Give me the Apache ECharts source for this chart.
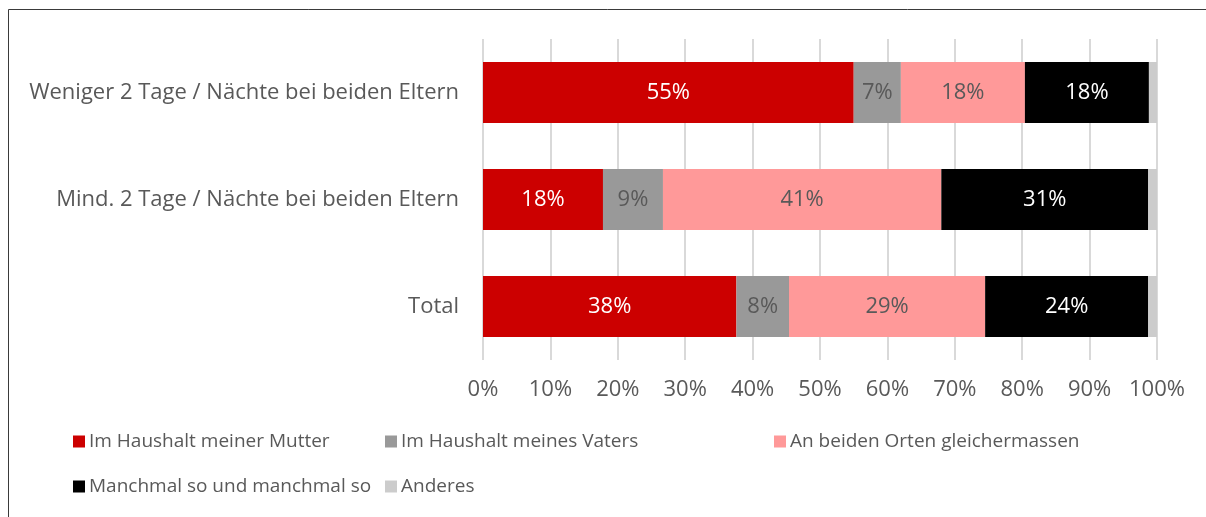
<!DOCTYPE html>
<html>
<head>
<meta charset="utf-8">
<script src="https://cdn.jsdelivr.net/npm/echarts@6/dist/echarts.min.js"></script>
<style>
html,body{margin:0;padding:0;background:#fff;}
#chart{width:1206px;height:517px;}
</style>
</head>
<body>
<div id="chart"></div>
<script>
var categories = ['Weniger 2 Tage / Nächte bei beiden Eltern', 'Mind. 2 Tage / Nächte bei beiden Eltern', 'Total'];
var seriesNames = ['Im Haushalt meiner Mutter', 'Im Haushalt meines Vaters', 'An beiden Orten gleichermassen', 'Manchmal so und manchmal so', 'Anderes'];
var mutter = [55.0, 17.8, 37.6];
var vater = [7.0, 8.9, 7.8];
var beide = [18.4, 41.3, 29.1];
var manchmal = [18.4, 30.7, 24.2];
var anderes = [1.2, 1.3, 1.3];
var xTicks = [0, 10, 20, 30, 40, 50, 60, 70, 80, 90, 100];

var FONT = '"Open Sans", "Noto Sans", sans-serif';
var TXT = '#595959';
var colors = ['#CC0000', '#999999', '#FF9999', '#000000', '#CCCCCC'];
var labelColors = ['#FFFFFF', TXT, TXT, '#FFFFFF', null];
var values = [mutter, vater, beide, manchmal, anderes];

var series = seriesNames.map(function (name, i) {
  return {
    name: name,
    type: 'bar',
    stack: 'total',
    barWidth: 61,
    data: values[i],
    itemStyle: { color: colors[i] },
    label: labelColors[i] ? {
      show: true,
      position: 'inside',
      color: labelColors[i],
      fontFamily: FONT,
      fontSize: 22,
      formatter: function (p) { return Math.round(p.value) + '%'; }
    } : { show: false },
    emphasis: { disabled: true }
  };
});

var legendPos = [
  { left: 73, top: 432 },
  { left: 385, top: 432 },
  { left: 774, top: 432 },
  { left: 73, top: 477 },
  { left: 385, top: 477 }
];
var legends = seriesNames.map(function (name, i) {
  return {
    data: [name],
    left: legendPos[i].left,
    top: legendPos[i].top,
    padding: 0,
    itemWidth: 12,
    itemHeight: 12,
    itemGap: 0,
    icon: 'rect',
    selectedMode: false,
    textStyle: { color: TXT, fontFamily: FONT, fontSize: 19, padding: [0, 0, 0, -1] }
  };
});

var chart = echarts.init(document.getElementById('chart'), null, { renderer: 'canvas' });
chart.setOption({
  animation: false,
  backgroundColor: '#ffffff',
  color: colors,
  graphic: [
    { type: 'rect', shape: { x: 8.5, y: 9.5, width: 1300, height: 600 }, style: { fill: 'none', stroke: '#3a3a3a', lineWidth: 1 }, silent: true }
  ],
  legend: legends,
  grid: { left: 483, right: 49, top: 39, bottom: 157, containLabel: false },
  xAxis: {
    type: 'value',
    min: 0,
    max: 100,
    interval: 10,
    axisLine: { show: false },
    axisTick: { show: false },
    splitLine: { show: true, lineStyle: { color: '#D9D9D9', width: 2 } },
    axisLabel: {
      margin: 19,
      color: TXT,
      fontFamily: FONT,
      fontSize: 22,
      formatter: function (v) { return xTicks.indexOf(v) >= 0 ? v + '%' : ''; }
    }
  },
  yAxis: {
    type: 'category',
    inverse: true,
    data: categories,
    axisLine: { show: false },
    axisTick: { show: false },
    axisLabel: { margin: 24, color: TXT, fontFamily: FONT, fontSize: 22 }
  },
  series: series
});
</script>
</body>
</html>
